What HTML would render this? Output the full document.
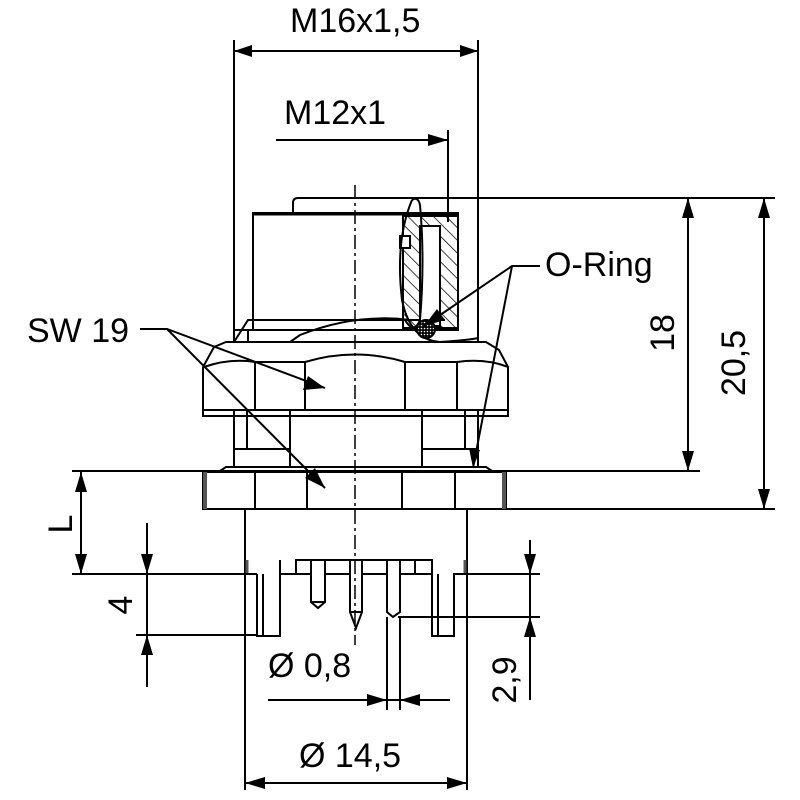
<!DOCTYPE html>
<html><head><meta charset="utf-8"><style>
html,body{margin:0;padding:0;background:#fff}
svg{display:block}
text{font-family:"Liberation Sans",Arial,sans-serif;font-size:34px;fill:#000}
</style></head><body>
<svg width="800" height="800" viewBox="0 0 800 800" xmlns="http://www.w3.org/2000/svg">
<defs>
<pattern id="hatch" width="9" height="9" patternUnits="userSpaceOnUse" patternTransform="rotate(-45)">
<line x1="0" y1="0" x2="0" y2="9" stroke="#000" stroke-width="1.5"/>
</pattern>
<pattern id="dots" width="3" height="3" patternUnits="userSpaceOnUse"><rect width="3" height="3" fill="#000"/><circle cx="1.5" cy="1.5" r="0.8" fill="#fff"/></pattern>
</defs>
<g stroke="#000" stroke-width="2" fill="none">
<line x1="234" y1="40" x2="234" y2="342"/>
<line x1="478" y1="40" x2="478" y2="342"/>
<line x1="234" y1="51" x2="478" y2="51"/>
<line x1="276" y1="140" x2="448" y2="140"/>
<line x1="448" y1="130" x2="448" y2="222"/>
<line x1="298" y1="198" x2="775" y2="198"/>
<line x1="72" y1="471" x2="700" y2="471"/>
<line x1="500" y1="509" x2="775" y2="509"/>
<line x1="688" y1="198" x2="688" y2="471"/>
<line x1="764" y1="198" x2="764" y2="509"/>
<path d="M293 213 V203 Q293 198 298 198"/>
<rect x="253" y="213" width="205" height="117"/>
<line x1="253" y1="214" x2="458" y2="214" stroke-width="3"/>
<path d="M234 342 L248 320 H445 M234 342 V330 H448 M248 330 V342 M290 342 L300 335 Q355 313 410 320"/>
<rect x="403" y="216" width="55" height="112" fill="url(#hatch)"/>
<rect x="420" y="226" width="20" height="100" fill="#fff"/>
<rect x="400" y="236" width="10" height="12" fill="#fff"/>
<path d="M412 200 Q395 240 402 300 Q410 340 440 342 Q470 340 478 338"/>
<path d="M412 200 Q418 196 420 205 Q425 260 420 320 Q414 335 405 320"/>
<circle cx="426" cy="329" r="9" fill="url(#dots)"/>
<path d="M203 416 V367 L214 347 L226 342 H486 L499 350 L508 367 V416 Z"/>
<path d="M204 367 Q230 358 255 362 H305 Q355 347 405 362 H457 Q485 358 508 367"/>
<line x1="255" y1="362" x2="255" y2="410"/>
<line x1="305" y1="362" x2="305" y2="410"/>
<line x1="405" y1="362" x2="405" y2="410"/>
<line x1="457" y1="362" x2="457" y2="410"/>
<line x1="203" y1="410" x2="508" y2="410"/>
<line x1="234" y1="410" x2="234" y2="467"/>
<line x1="478" y1="410" x2="478" y2="467"/>
<line x1="247" y1="410" x2="247" y2="449"/>
<line x1="290" y1="410" x2="290" y2="467"/>
<line x1="422" y1="410" x2="422" y2="467"/>
<line x1="465" y1="410" x2="465" y2="449"/>
<line x1="234" y1="449" x2="290" y2="449"/>
<line x1="422" y1="449" x2="478" y2="449"/>
<path d="M220 471 L226 467 H486 L492 471"/>
<rect x="203" y="472" width="303" height="37"/>
<line x1="255" y1="472" x2="255" y2="509"/>
<line x1="307" y1="472" x2="307" y2="509"/>
<line x1="402" y1="472" x2="402" y2="509"/>
<line x1="455" y1="472" x2="455" y2="509"/>
<line x1="205" y1="472" x2="205" y2="509" stroke-width="4" stroke="#555"/>
<line x1="504" y1="472" x2="504" y2="509" stroke-width="4" stroke="#555"/>
<line x1="245" y1="509" x2="245" y2="790"/>
<line x1="467" y1="509" x2="467" y2="790"/>
<path d="M247 574 V560 M465 574 V560" stroke-width="3" stroke="#555"/>
<path d="M72 574 H257 M455 574 H540"/>
<!-- base -->
<path d="M257 574 V636 H280 V574 H296 V560 H432 V574 H415 M280 574 V560"/>
<path d="M263 574 V636 M432 574 V636 H454 V574 H455 M438 574 V636"/>
<path d="M296 574 H311 M325 574 H350 M362 574 H387 M400 574 H415 V560"/>
<path d="M311 560 V602 L318 608 L325 602 V560 M311 602 H325"/>
<path d="M350 560 V612 L356 628 L362 612 V560 M350 612 H362"/>
<path d="M387 560 V612 L393 617 L400 612 V560"/>
<path d="M136 635 H257 M398 617 H540"/>
<line x1="81" y1="471" x2="81" y2="574"/>
<line x1="147" y1="523" x2="147" y2="687"/>
<line x1="530" y1="540" x2="530" y2="700"/>
<line x1="387" y1="617" x2="387" y2="710"/>
<line x1="400" y1="617" x2="400" y2="710"/>
<line x1="268" y1="700" x2="450" y2="700"/>
<line x1="245" y1="783" x2="467" y2="783"/>
<line x1="355" y1="185" x2="355" y2="645" stroke-width="1.5" stroke-dasharray="14 4 3 4"/>
<path d="M140 329 H167 L325 388 M167 329 L325 488"/>
<path d="M540 266 H512 L424 326 M512 266 L473 468"/>
</g>
<g fill="#000">
<polygon points="234,51 252,45 252,57"/>
<polygon points="478,51 460,45 460,57"/>
<polygon points="448,140 428,134 428,146"/>
<polygon points="688,198 682,218 694,218"/>
<polygon points="688,471 682,451 694,451"/>
<polygon points="764,198 758,218 770,218"/>
<polygon points="764,509 758,489 770,489"/>
<polygon points="81,472 75,492 87,492"/>
<polygon points="81,574 75,554 87,554"/>
<polygon points="147,574 141,554 153,554"/>
<polygon points="147,635 141,655 153,655"/>
<polygon points="530,574 524,554 536,554"/>
<polygon points="530,617 524,637 536,637"/>
<polygon points="387,700 367,694 367,706"/>
<polygon points="400,700 420,694 420,706"/>
<polygon points="245,783 265,777 265,789"/>
<polygon points="467,783 447,777 447,789"/>
<polygon points="325,388 303,390 308,376"/>
<polygon points="325,488 305,478 315,468"/>
<polygon points="424,326 437,309 445,320"/>
<polygon points="473,468 469,448 480,450"/>
</g>
<text x="290" y="32">M16x1,5</text>
<text x="284" y="124">M12x1</text>
<text x="27" y="342">SW 19</text>
<text x="545" y="276">O-Ring</text>
<text transform="translate(674,333) rotate(-90)" text-anchor="middle">18</text>
<text transform="translate(745,363) rotate(-90)" text-anchor="middle">20,5</text>
<text transform="translate(72,524) rotate(-90)" text-anchor="middle">L</text>
<text transform="translate(132,605) rotate(-90)" text-anchor="middle">4</text>
<text transform="translate(516,680) rotate(-90)" text-anchor="middle">2,9</text>
<text x="268" y="677">Ø 0,8</text>
<text x="299" y="767">Ø 14,5</text>
</svg>
</body></html>
